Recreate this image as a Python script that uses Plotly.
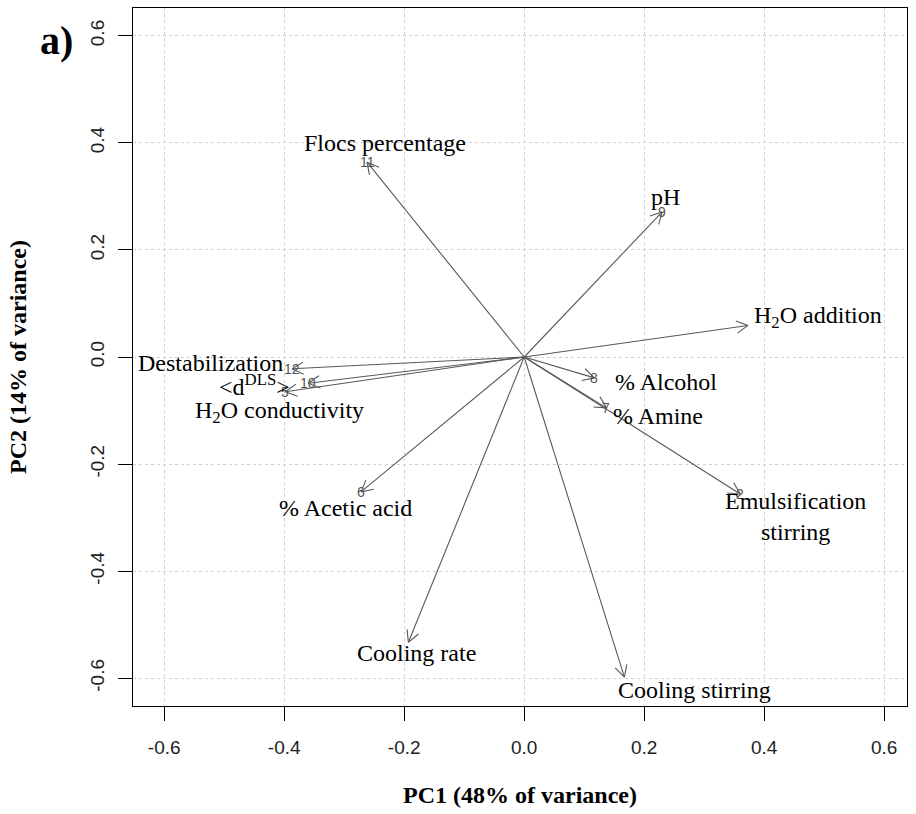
import math
import plotly.graph_objects as go

# PCA loadings (PC1, PC2) of the process variables
variables = [
    "H<sub>2</sub>O addition",
    "Emulsification<br>stirring",
    "Cooling stirring",
    "Cooling rate",
    "H<sub>2</sub>O conductivity",
    "% Acetic acid",
    "% Amine",
    "% Alcohol",
    "pH",
    "&lt;d<sup>DLS</sup>&gt;",
    "Flocs percentage",
    "Destabilization",
]
pc1 = [0.373, 0.360, 0.167, -0.193, -0.398, -0.272, 0.137, 0.117, 0.230, -0.360, -0.262, -0.387]
pc2 = [0.059, -0.256, -0.598, -0.533, -0.065, -0.252, -0.095, -0.039, 0.271, -0.049, 0.364, -0.022]
tip_ids = ["", "2", "", "", "5", "6", "7", "8", "9", "10", "11", "12"]

x_ticks = [-0.6, -0.4, -0.2, 0.0, 0.2, 0.4, 0.6]
y_ticks = [-0.6, -0.4, -0.2, 0.0, 0.2, 0.4, 0.6]
x_title = "PC1 (48% of variance)"
y_title = "PC2 (14% of variance)"
panel_tag = "a)"

# label offsets from the arrow tips, in pixels (right, down)
label_dx = [70, 55, 70, 8, -6, -16, 52, 72, 3, -54, 18, -82]
label_dy = [-8, 22, 13, 11, 20, 16, 8, 4, -15, 2, -19, -6]

W, H = 916, 814
margin = dict(l=133, r=9, t=8, b=108)
x_range = [-0.652, 0.638]
y_range = [-0.652, 0.652]
sx = (W - margin["l"] - margin["r"]) / (x_range[1] - x_range[0])
sy = (H - margin["t"] - margin["b"]) / (y_range[1] - y_range[0])

arrow_color = "#585858"
head_len = 13
head_ang = math.radians(28)

# shafts and open heads of the loading arrows
ax, ay = [], []
for x, y in zip(pc1, pc2):
    ax += [0, x, None]
    ay += [0, y, None]
    th = math.atan2(y * sy, x * sx)
    for s in (1, -1):
        hx = x - head_len * math.cos(th + s * head_ang) / sx
        hy = y - head_len * math.sin(th + s * head_ang) / sy
        ax += [x, hx, None]
        ay += [y, hy, None]

fig = go.Figure()
fig.add_trace(go.Scatter(
    x=ax, y=ay, mode="lines",
    line=dict(color=arrow_color, width=1.1),
    hoverinfo="skip", showlegend=False,
))

serif = "Liberation Serif, Times New Roman, serif"
annotations = []
for x, y, name, num, dx, dy in zip(pc1, pc2, variables, tip_ids, label_dx, label_dy):
    if num:
        annotations.append(dict(
            x=x, y=y, text=num, showarrow=False,
            xanchor="center", yanchor="middle",
            font=dict(family="Liberation Sans, Arial", size=14, color="#555555"),
        ))
    annotations.append(dict(
        x=x, y=y, text=name, showarrow=False,
        xanchor="center", yanchor="middle", xshift=dx, yshift=-dy,
        font=dict(family=serif, size=24, color="black"),
    ))

annotations += [
    dict(xref="paper", yref="paper", x=0.5, y=0, yshift=-89,
         text="<b>" + x_title + "</b>", showarrow=False,
         xanchor="center", yanchor="middle",
         font=dict(family=serif, size=24, color="black")),
    dict(xref="paper", yref="paper", x=0, y=0.5, xshift=-115,
         text="<b>" + y_title + "</b>", showarrow=False, textangle=-90,
         xanchor="center", yanchor="middle",
         font=dict(family=serif, size=24, color="black")),
    dict(xref="paper", yref="paper", x=0, y=1, xshift=-77, yshift=-32,
         text="<b>" + panel_tag + "</b>", showarrow=False,
         xanchor="center", yanchor="middle",
         font=dict(family=serif, size=40, color="black")),
]

tick_font = dict(family="Liberation Sans Narrow, Liberation Sans, Arial", size=19, color="#222222")
axis_common = dict(
    showgrid=True, griddash="dot", gridcolor="#d0d0d0", gridwidth=1,
    zeroline=False, showline=True, mirror=True, linecolor="black", linewidth=1,
    ticks="outside", ticklen=14, tickcolor="black", tickwidth=1,
    tickfont=tick_font,
)

fig.update_layout(
    width=W, height=H, margin=margin,
    paper_bgcolor="white", plot_bgcolor="white",
    annotations=annotations,
    xaxis=dict(range=x_range, tickvals=x_ticks,
               ticktext=[f"{v:.1f}" for v in x_ticks],
               ticklabelstandoff=10, **axis_common),
    yaxis=dict(range=y_range, tickvals=y_ticks,
               ticktext=[f"{v:.1f}" for v in y_ticks],
               tickangle=-90, ticklabelstandoff=6, **axis_common),
)

fig.write_html("out.html")
